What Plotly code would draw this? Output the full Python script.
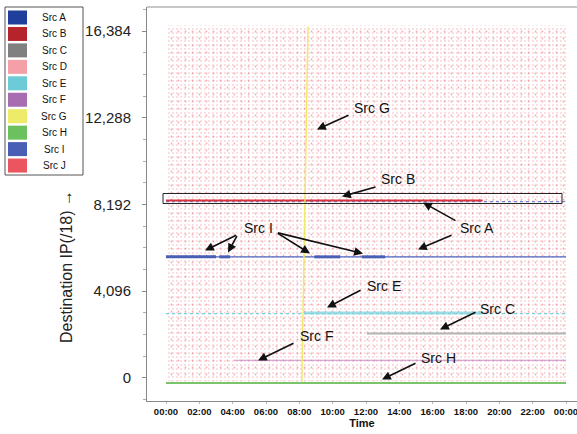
import plotly.graph_objects as go

# ---------------- data ----------------
sources = ["Src A", "Src B", "Src C", "Src D", "Src E", "Src F", "Src G", "Src H", "Src I", "Src J"]
colors = ["#1f3f9a", "#b5232b", "#808080", "#f4a0a8", "#6ccbd6", "#a86db0", "#eeea6a", "#6cc05e", "#4a5eb5", "#ea5560"]

# time in hours, destination IP (/18 index)
scan_t = [0, 24]            # Src D / Src J background scans (time span)
scan_ip = [-150, 16650]     # IP span of the background scan

src_a_t = [[0, 24], [0, 24]]
src_a_ip = [8330, 5720]
src_b_t = [0, 19.0]
src_b_ip = 8385
src_c_t = [12.05, 24]
src_c_ip = 2100
src_e_t = [0, 24]
src_e_ip = 3040
src_e_dense_t = [8.3, 19.0]
src_e_dense_ip = 3065
src_f_t = [4.15, 24]
src_f_ip = 840
src_g_t = [8.15, 8.52]
src_g_ip = [-200, 16600]
src_h_t = [0, 24]
src_h_ip = -240
src_i_t = [[0, 3.0], [3.2, 3.85], [8.9, 10.45], [11.75, 13.15]]
src_i_ip = 5720

x_tick_vals = [0, 2, 4, 6, 8, 10, 12, 14, 16, 18, 20, 22, 24]
x_tick_text = ["00:00", "02:00", "04:00", "06:00", "08:00", "10:00", "12:00",
               "14:00", "16:00", "18:00", "20:00", "22:00", "00:00"]
y_tick_vals = [0, 4096, 8192, 12288, 16384]

highlight_box = dict(t0=-0.18, t1=23.76, ip0=8240, ip1=8710)

# callouts: label, text position (t, ip), list of (tail t, tail ip, head t, head ip)
callouts = [
    ("Src G", (12.36, 12772), [(11.04, 12442, 9.06, 11733)]),
    ("Src B", (13.92, 9373), [(12.66, 9042, 10.56, 8570)]),
    ("Src A", (18.66, 7106), [(17.46, 7389, 15.42, 8286), (17.22, 6775, 15.12, 6067)]),
    ("Src I", (5.52, 7106), [(4.3, 6775, 2.34, 6020), (4.3, 6775, 3.72, 5925),
                             (6.62, 6870, 8.64, 5878), (6.62, 6870, 11.82, 5878)]),
    ("Src E", (13.08, 4367), [(11.76, 4178, 9.66, 3328)]),
    ("Src C", (19.86, 3234), [(18.66, 3139, 16.44, 2290)]),
    ("Src F", (9.0, 1959), [(7.74, 1676, 5.52, 826)]),
    ("Src H", (16.32, 967), [(15.06, 731, 12.96, -72)]),
]

# ---------------- figure ----------------
W, H = 577, 434
ML, MR, MT, MB = 147, 0, 7, 33
fig = go.Figure()

c = dict(zip(sources, colors))

# background scans (Src D pink, Src J red) as dotted textures
fig.add_trace(go.Scatter(
    x=[scan_t[0], scan_t[1], scan_t[1], scan_t[0], scan_t[0]],
    y=[scan_ip[0], scan_ip[0], scan_ip[1], scan_ip[1], scan_ip[0]],
    fill="toself", mode="none", fillcolor="rgba(0,0,0,0)",
    fillpattern=dict(shape=".", size=4, solidity=0.18, fgcolor="#f6a8b0", bgcolor="rgba(0,0,0,0)"),
    hoverinfo="skip", showlegend=False))
fig.add_trace(go.Scatter(
    x=[scan_t[0], scan_t[1], scan_t[1], scan_t[0], scan_t[0]],
    y=[scan_ip[0], scan_ip[0], scan_ip[1], scan_ip[1], scan_ip[0]],
    fill="toself", mode="none", fillcolor="rgba(0,0,0,0)",
    fillpattern=dict(shape=".", size=7, solidity=0.05, fgcolor=c["Src J"], bgcolor="rgba(0,0,0,0)"),
    hoverinfo="skip", showlegend=False))

def hline(t, ip, color, width, dash="solid", opacity=1.0):
    fig.add_trace(go.Scatter(x=t, y=[ip] * len(t), mode="lines", opacity=opacity,
                             line=dict(color=color, width=width, dash=dash),
                             hoverinfo="skip", showlegend=False))

hline(src_h_t, src_h_ip, "#7cc46c", 2)
hline(src_f_t, src_f_ip, "#c890cc", 1.1)
hline(src_c_t, src_c_ip, "#b4b4b4", 2)
hline(src_e_t, src_e_ip, "#78d0dc", 1.2, "dot")
hline(src_e_dense_t, src_e_dense_ip, "#86d6e0", 3, opacity=0.8)
hline(src_a_t[0], src_a_ip[0], "#6f86d0", 1.2, "dot")
hline(src_a_t[1], src_a_ip[1], "#4a66c4", 1.3)

# Src I segments
ix, iy = [], []
for s in src_i_t:
    ix += [s[0], s[1], None]
    iy += [src_i_ip, src_i_ip, None]
fig.add_trace(go.Scatter(x=ix, y=iy, mode="lines", line=dict(color=c["Src I"], width=3),
                         hoverinfo="skip", showlegend=False))

hline(src_b_t, src_b_ip, "#d8323e", 2)

fig.add_trace(go.Scatter(x=src_g_t, y=src_g_ip, mode="lines", line=dict(color="#f0e96a", width=1.5),
                         hoverinfo="skip", showlegend=False))

# highlight box
fig.add_shape(type="rect", xref="x", yref="y",
              x0=highlight_box["t0"], x1=highlight_box["t1"],
              y0=highlight_box["ip0"], y1=highlight_box["ip1"],
              line=dict(color="#222", width=1), fillcolor="rgba(0,0,0,0)")

# callouts
for label, (tx, ty), arrows in callouts:
    fig.add_annotation(x=tx, y=ty, xref="x", yref="y", text=label, showarrow=False,
                       xanchor="center", yanchor="middle",
                       font=dict(family="Arial, Liberation Sans", size=14, color="#111"))
    for (t0, y0, t1, y1) in arrows:
        fig.add_annotation(x=t1, y=y1, ax=t0, ay=y0, xref="x", yref="y", axref="x", ayref="y",
                           text="", showarrow=True, arrowhead=2, arrowsize=1.1, arrowwidth=1.6,
                           arrowcolor="#111")

# manual legend (pixel -> paper)
pw, ph = W - ML - MR, H - MT - MB
def px(x):
    return (x - ML) / pw
def py(y):
    return 1 - (y - MT) / ph

fig.add_shape(type="rect", xref="paper", yref="paper", x0=px(5), x1=px(83), y0=py(175), y1=py(7),
              line=dict(color="#555", width=1), fillcolor="white", layer="above")
for i, (name, col) in enumerate(zip(sources, colors)):
    yc = 17.5 + i * 16.45
    fig.add_shape(type="rect", xref="paper", yref="paper", x0=px(8), x1=px(27),
                  y0=py(yc + 7), y1=py(yc - 7), line=dict(width=0), fillcolor=col, layer="above")
    fig.add_annotation(x=px(54), y=py(yc), xref="paper", yref="paper", text=name, showarrow=False,
                       xanchor="center", yanchor="middle",
                       font=dict(family="Liberation Sans, Arial", size=10, color="#111"))

# y title
fig.add_annotation(x=px(66), y=py(267), xref="paper", yref="paper", text="Destination IP(/18) →",
                   textangle=-90, showarrow=False, xanchor="center", yanchor="middle",
                   font=dict(family="Arial, Liberation Sans", size=16, color="#222"))

# top frame line
fig.add_shape(type="line", xref="paper", yref="paper", x0=0, x1=1, y0=1, y1=1,
              line=dict(color="#c8c8c8", width=2))

fig.update_layout(
    width=W, height=H, margin=dict(l=ML, r=MR, t=MT, b=MB, autoexpand=False),
    paper_bgcolor="white", plot_bgcolor="white", showlegend=False,
    xaxis=dict(range=[-1.14, 24.66], tickvals=x_tick_vals, ticktext=x_tick_text, automargin=False,
               ticklabeloverflow="allow",
               showgrid=False, zeroline=False, showline=True, linecolor="#888", linewidth=1,
               ticks="outside", ticklen=2, tickcolor="#bbb",
               tickfont=dict(family="Arial, Liberation Sans", size=9.5, color="#111", weight="bold"),
               title=dict(text="Time", standoff=2,
                          font=dict(family="Arial, Liberation Sans", size=11, color="#111", weight="bold"))),
    yaxis=dict(range=[-1087, 17518], tickvals=y_tick_vals, tickformat=",d", automargin=False,
               showgrid=False, zeroline=False, showline=True, linecolor="#888", linewidth=1,
               ticks="outside", ticklen=4, tickcolor="#888", ticklabelstandoff=8,
               minor=dict(tickvals=[v for v in range(-1024, 17409, 1024)], ticks="outside", ticklen=3, tickcolor="#aaa"),
               tickfont=dict(family="Arial, Liberation Sans", size=15, color="#222")),
)

fig.write_html("out.html", config={"displayModeBar": False},
               post_script="document.body.style.margin='0';document.body.style.padding='0';")
